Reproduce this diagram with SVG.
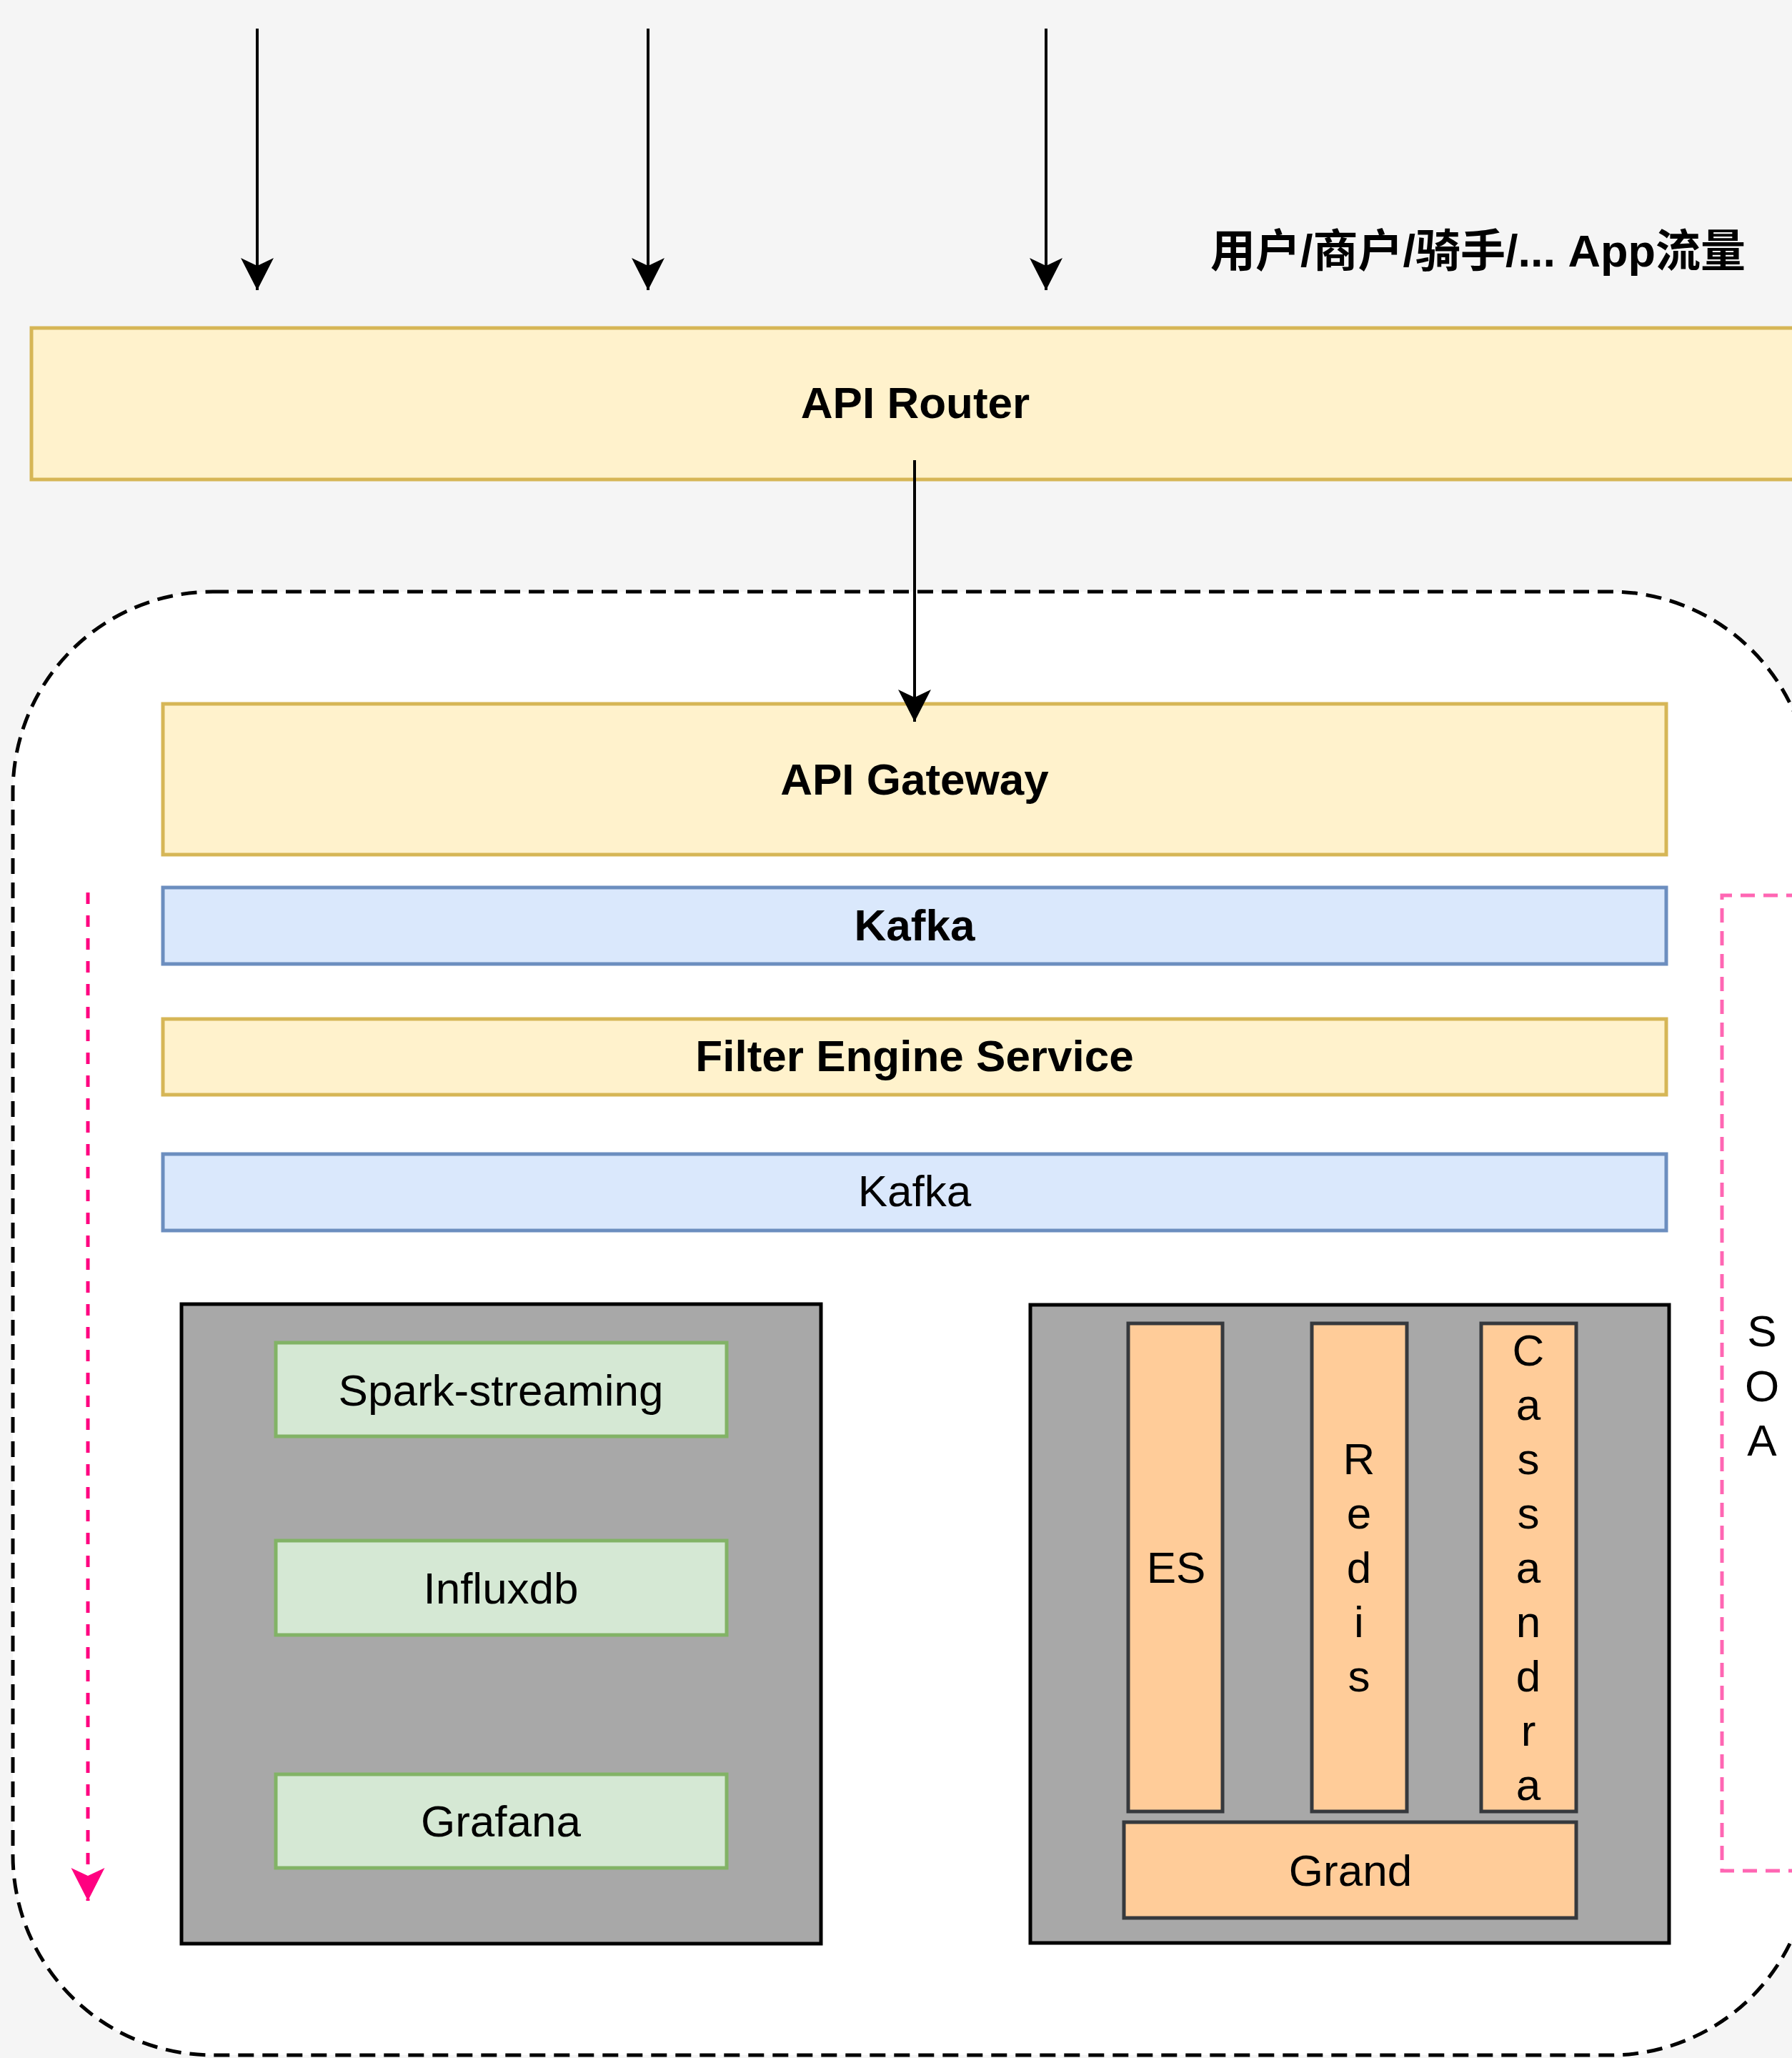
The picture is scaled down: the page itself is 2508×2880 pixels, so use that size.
<svg xmlns="http://www.w3.org/2000/svg" width="2508" height="2880" viewBox="0 0 2508 2880">
<defs>
<style>
.t{font-family:"Liberation Sans","Noto Sans CJK SC",Arial,sans-serif;font-size:62px;fill:#000;text-anchor:middle}
.b{font-weight:bold}
.yel{fill:#fff2cc;stroke:#d6b656;stroke-width:5}
.blu{fill:#dae8fc;stroke:#6c8ebf;stroke-width:5}
.grn{fill:#d5e8d4;stroke:#82b366;stroke-width:5}
.org{fill:#ffcc99;stroke:#36393d;stroke-width:5}
.gry{fill:#a8a8a8;stroke:#000;stroke-width:5}
.blk{stroke:#000;stroke-width:4;fill:none}
</style>
<marker id="ab" markerUnits="userSpaceOnUse" viewBox="-50 -26 52 52" refX="0" refY="0" markerWidth="52" markerHeight="52" orient="auto">
<path d="M0,0 L-45,-23 L-34,0 L-45,23 Z" fill="#000"/>
</marker>
<marker id="ap" markerUnits="userSpaceOnUse" viewBox="-50 -26 52 52" refX="0" refY="0" markerWidth="52" markerHeight="52" orient="auto">
<path d="M0,0 L-46,-23.5 L-35,0 L-46,23.5 Z" fill="#ff0080"/>
</marker>
</defs>
<rect x="0" y="0" width="2508" height="2880" fill="#f5f5f5"/>

<g id="container">
<rect x="18" y="828" width="2516" height="2048" rx="280" ry="280" fill="#fff" stroke="#000" stroke-width="5" stroke-dasharray="22 12"/>
</g>

<g id="label-traffic">
<text class="t b" x="2443" y="373" style="text-anchor:end;font-size:63px">用户/商户/骑手/... App流量</text>
</g>

<g id="api-router">
<rect class="yel" x="44" y="459" width="2500" height="212"/>
<text class="t b" x="1281" y="585">API Router</text>
</g>

<g id="api-gateway">
<rect class="yel" x="228" y="985" width="2104" height="211"/>
<text class="t b" x="1280" y="1112">API Gateway</text>
</g>

<g id="kafka-1">
<rect class="blu" x="228" y="1242" width="2104" height="107"/>
<text class="t b" x="1280" y="1316">Kafka</text>
</g>

<g id="filter-engine">
<rect class="yel" x="228" y="1426" width="2104" height="106"/>
<text class="t b" x="1280" y="1499">Filter Engine Service</text>
</g>

<g id="kafka-2">
<rect class="blu" x="228" y="1615" width="2104" height="107"/>
<text class="t" x="1280" y="1688">Kafka</text>
</g>

<g id="monitor-group">
<rect class="gry" x="254" y="1825" width="895" height="895"/>
</g>
<g id="spark-streaming">
<rect class="grn" x="386" y="1879" width="631" height="131"/>
<text class="t" x="701" y="1967">Spark-streaming</text>
</g>
<g id="influxdb">
<rect class="grn" x="386" y="2156" width="631" height="132"/>
<text class="t" x="701" y="2244">Influxdb</text>
</g>
<g id="grafana">
<rect class="grn" x="386" y="2483" width="631" height="131"/>
<text class="t" x="701" y="2570">Grafana</text>
</g>

<g id="storage-group">
<rect class="gry" x="1442" y="1826" width="894" height="893"/>
</g>
<g id="es">
<rect class="org" x="1579" y="1852" width="132" height="683"/>
<text class="t" x="1646" y="2215">ES</text>
</g>
<g id="redis">
<rect class="org" x="1836" y="1852" width="133" height="683"/>
<text class="t" x="1902">
<tspan x="1902" y="2063">R</tspan><tspan x="1902" y="2139">e</tspan><tspan x="1902" y="2215">d</tspan><tspan x="1902" y="2291">i</tspan><tspan x="1902" y="2367">s</tspan>
</text>
</g>
<g id="cassandra">
<rect class="org" x="2073" y="1852" width="133" height="683"/>
<text class="t" x="2139">
<tspan x="2139" y="1911">C</tspan><tspan x="2139" y="1987">a</tspan><tspan x="2139" y="2063">s</tspan><tspan x="2139" y="2139">s</tspan><tspan x="2139" y="2215">a</tspan><tspan x="2139" y="2291">n</tspan><tspan x="2139" y="2367">d</tspan><tspan x="2139" y="2443">r</tspan><tspan x="2139" y="2519">a</tspan>
</text>
</g>
<g id="grand">
<rect class="org" x="1573" y="2550" width="633" height="134"/>
<text class="t" x="1890" y="2639">Grand</text>
</g>

<g id="soa">
<text class="t" x="2466">
<tspan x="2466" y="1884">S</tspan><tspan x="2466" y="1961">O</tspan><tspan x="2466" y="2037">A</tspan>
</text>
</g>

<g id="connectors">
<path class="blk" d="M360,40 V406" marker-end="url(#ab)"/>
<path class="blk" d="M907,40 V406" marker-end="url(#ab)"/>
<path class="blk" d="M1464,40 V406" marker-end="url(#ab)"/>
<path class="blk" d="M1280,644 V1010" marker-end="url(#ab)"/>
<path d="M123,1249 V2660" fill="none" stroke="#ff0080" stroke-width="5" stroke-dasharray="16 16" marker-end="url(#ap)"/>
<path d="M2520,1253 H2410 V2618 H2520" fill="none" stroke="#ff66b3" stroke-width="5" stroke-dasharray="20 12"/>
</g>
</svg>
